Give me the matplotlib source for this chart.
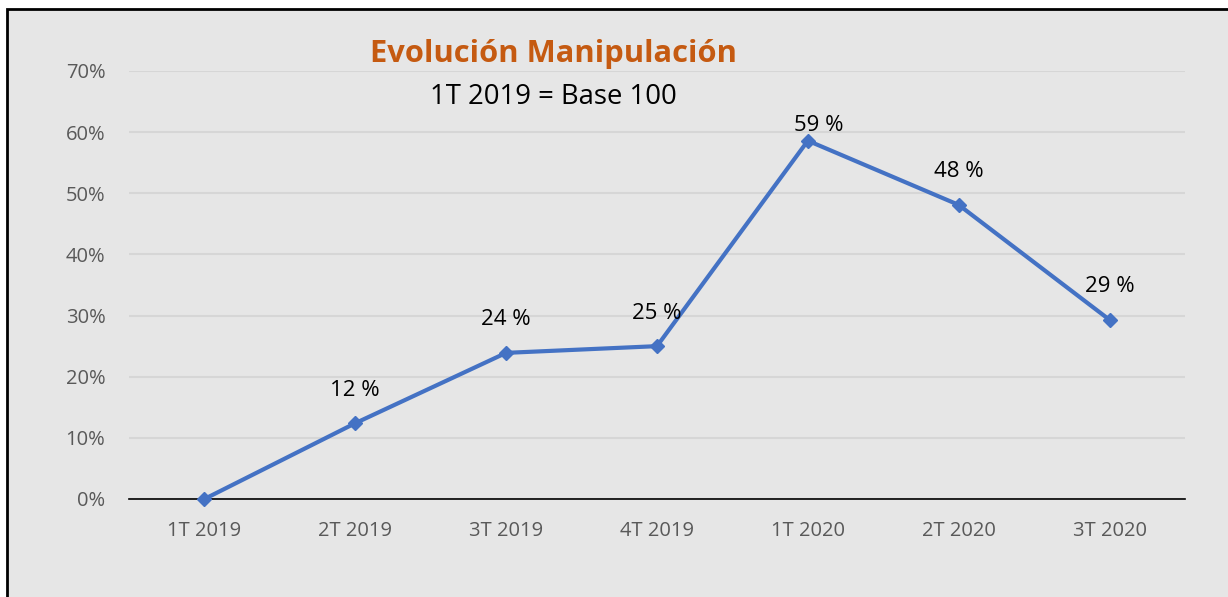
import matplotlib
matplotlib.use("Agg")
import matplotlib.pyplot as plt
from matplotlib.patches import Rectangle
from matplotlib.ticker import PercentFormatter

# -- Data ---------------------------------------------------------------------
quarters = ["1T 2019", "2T 2019", "3T 2019", "4T 2019", "1T 2020", "2T 2020", "3T 2020"]
values = [0.0, 0.124, 0.239, 0.250, 0.586, 0.481, 0.293]
labels = ["", "12 %", "24 %", "25 %", "59 %", "48 %", "29 %"]

BG = "#E6E6E6"
GRID = "#D6D6D6"
LINE = "#4472C4"
TICK = "#595959"
TITLE = "#C55A11"

plt.rcParams["font.family"] = ["Open Sans", "DejaVu Sans"]

fig = plt.figure(figsize=(12.28, 5.97), dpi=100)
fig.patch.set_facecolor("white")

# grey frame with black border (runs off the right/bottom edge like the source)
fig.patches.append(Rectangle((7 / 1228, -0.1), 1.2, 1 - 9 / 597 + 0.1,
                             transform=fig.transFigure, facecolor=BG,
                             edgecolor="black", linewidth=2, zorder=-1))

ax = fig.add_axes([129 / 1228, 1 - 499 / 597, (1185 - 129) / 1228, (499 - 71) / 597])
ax.set_zorder(1)
ax.set_facecolor("none")
x = list(range(len(quarters)))
ax.plot(x, values, color=LINE, lw=3, marker="D", ms=7, zorder=3, clip_on=False)

for xi, v, lab in zip(x, values, labels):
    if not lab:
        continue
    # the peak label sits lower and to the right (squeezed under the title)
    dx, dy = (11, 15) if lab == "59 %" else (0, 33)
    ax.annotate(lab, (xi, v), xytext=(dx, dy), textcoords="offset pixels",
                ha="center", va="center", fontsize=16, color="black")

ax.set_xlim(-0.5, len(quarters) - 0.5)
ax.set_ylim(0, 0.7)
ax.set_yticks([i / 10 for i in range(8)])
ax.yaxis.set_major_formatter(PercentFormatter(1.0, decimals=0))
ax.set_xticks(x)
ax.set_xticklabels(quarters)
ax.tick_params(length=0, labelsize=14.5, colors=TICK, pad=16)
ax.tick_params(axis="y", pad=17)
ax.grid(axis="y", color=GRID, lw=1.5)
ax.set_axisbelow(True)
for s in ["top", "right", "left"]:
    ax.spines[s].set_visible(False)
ax.spines["bottom"].set_color("black")
ax.spines["bottom"].set_linewidth(1.2)

fig.text(553 / 1228, 1 - 54 / 597, "Evolución Manipulación", ha="center",
         va="center", fontsize=22.2, fontweight="bold", color=TITLE)
fig.text(553 / 1228, 1 - 97 / 597, "1T 2019 = Base 100", ha="center",
         va="center", fontsize=19.8, color="black")

fig.savefig("out.png", dpi=100)
